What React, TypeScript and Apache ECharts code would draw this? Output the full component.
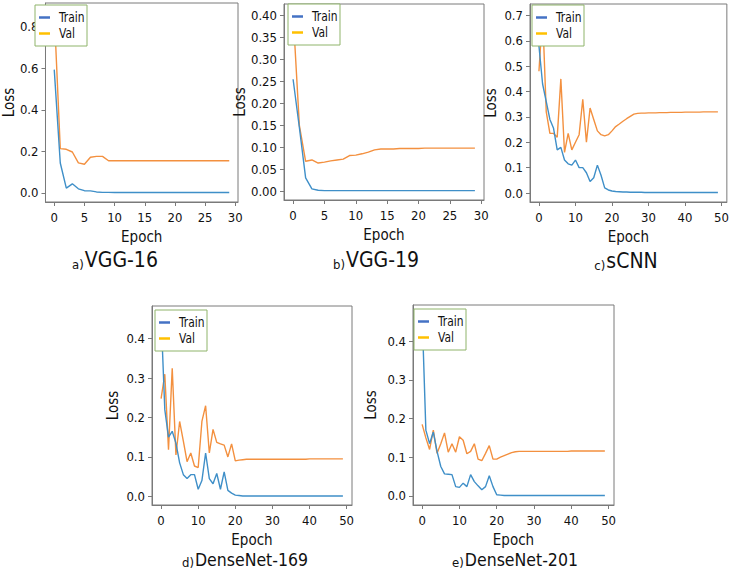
import React, { useEffect, useRef } from 'react';
import * as echarts from 'echarts';

const FONT = "'Liberation Sans Narrow','DejaVu Sans Condensed','Roboto Condensed','Liberation Sans',Arial,sans-serif";

// ---- data ----
const vgg16Train = [0.593, 0.144, 0.023, 0.044, 0.020, 0.011, 0.010, 0.005, 0.003, 0.003,
  0.002, 0.002, 0.002, 0.002, 0.002, 0.002, 0.002, 0.002, 0.002, 0.002,
  0.002, 0.002, 0.002, 0.002, 0.002, 0.002, 0.002, 0.002, 0.002, 0.002];
const vgg16Val = [0.870, 0.213, 0.210, 0.197, 0.145, 0.138, 0.172, 0.176, 0.176, 0.155,
  0.155, 0.155, 0.155, 0.155, 0.155, 0.155, 0.155, 0.155, 0.155, 0.155,
  0.155, 0.155, 0.155, 0.155, 0.155, 0.155, 0.155, 0.155, 0.155, 0.155];

const vgg19Train = [0.255, 0.145, 0.030, 0.005, 0.002, 0.001, 0.001, 0.001, 0.001, 0.001,
  0.001, 0.001, 0.001, 0.001, 0.001, 0.001, 0.001, 0.001, 0.001, 0.001,
  0.001, 0.001, 0.001, 0.001, 0.001, 0.001, 0.001, 0.001, 0.001, 0.001];
const vgg19Val = [0.406, 0.150, 0.068, 0.071, 0.064, 0.066, 0.069, 0.071, 0.073, 0.081,
  0.082, 0.085, 0.089, 0.094, 0.096, 0.096, 0.096, 0.097, 0.097, 0.097,
  0.097, 0.098, 0.098, 0.098, 0.098, 0.098, 0.098, 0.098, 0.098, 0.098];

const scnnTrain = [0.58, 0.43, 0.36, 0.29, 0.255, 0.17, 0.18, 0.13, 0.115, 0.11,
  0.13, 0.10, 0.10, 0.08, 0.045, 0.06, 0.11, 0.07, 0.02, 0.012,
  0.008, 0.006, 0.005, 0.004, 0.004, 0.003, 0.003, 0.003, 0.003, 0.002,
  0.002, 0.002, 0.002, 0.002, 0.002, 0.002, 0.002, 0.002, 0.002, 0.002,
  0.002, 0.002, 0.002, 0.002, 0.002, 0.002, 0.002, 0.002, 0.002, 0.002];
const scnnVal = [0.48, 0.71, 0.32, 0.235, 0.235, 0.22, 0.45, 0.16, 0.235, 0.17,
  0.20, 0.23, 0.37, 0.20, 0.335, 0.29, 0.245, 0.23, 0.225, 0.23,
  0.245, 0.262, 0.272, 0.283, 0.293, 0.302, 0.311, 0.314, 0.315, 0.315,
  0.316, 0.316, 0.316, 0.317, 0.317, 0.317, 0.318, 0.318, 0.318, 0.318,
  0.319, 0.319, 0.319, 0.319, 0.319, 0.320, 0.320, 0.320, 0.320, 0.320];

const dn169Train = [0.46, 0.22, 0.15, 0.165, 0.135, 0.085, 0.055, 0.045, 0.055, 0.055,
  0.018, 0.04, 0.11, 0.045, 0.032, 0.058, 0.018, 0.062, 0.015, 0.008,
  0.003, 0.002, 0.001, 0.001, 0.001, 0.001, 0.001, 0.001, 0.001, 0.001,
  0.001, 0.001, 0.001, 0.001, 0.001, 0.001, 0.001, 0.001, 0.001, 0.001,
  0.001, 0.001, 0.001, 0.001, 0.001, 0.001, 0.001, 0.001, 0.001, 0.001];
const dn169Val = [0.248, 0.31, 0.118, 0.325, 0.105, 0.19, 0.14, 0.088, 0.11, 0.077,
  0.073, 0.19, 0.23, 0.11, 0.17, 0.137, 0.133, 0.13, 0.10, 0.133,
  0.09, 0.092, 0.093, 0.094, 0.094, 0.094, 0.094, 0.094, 0.094, 0.094,
  0.094, 0.094, 0.094, 0.094, 0.094, 0.094, 0.094, 0.094, 0.094, 0.094,
  0.095, 0.095, 0.095, 0.095, 0.095, 0.095, 0.095, 0.095, 0.095, 0.095];

const dn201Train = [0.47, 0.17, 0.135, 0.165, 0.115, 0.076, 0.057, 0.056, 0.055, 0.024,
  0.022, 0.033, 0.024, 0.055, 0.037, 0.026, 0.016, 0.024, 0.052, 0.024,
  0.003, 0.002, 0.001, 0.001, 0.001, 0.001, 0.001, 0.001, 0.001, 0.001,
  0.001, 0.001, 0.001, 0.001, 0.001, 0.001, 0.001, 0.001, 0.001, 0.001,
  0.001, 0.001, 0.001, 0.001, 0.001, 0.001, 0.001, 0.001, 0.001, 0.001];
const dn201Val = [0.185, 0.15, 0.12, 0.17, 0.11, 0.135, 0.163, 0.113, 0.135, 0.113,
  0.153, 0.144, 0.109, 0.115, 0.135, 0.095, 0.091, 0.11, 0.13, 0.095,
  0.095, 0.10, 0.104, 0.108, 0.112, 0.114, 0.115, 0.115, 0.115, 0.115,
  0.115, 0.115, 0.115, 0.115, 0.115, 0.115, 0.115, 0.115, 0.115, 0.115,
  0.116, 0.116, 0.116, 0.116, 0.116, 0.116, 0.116, 0.116, 0.116, 0.116];

// ---- ticks ----
const xTicks30 = [0, 5, 10, 15, 20, 25, 30];
const xTicks50 = [0, 10, 20, 30, 40, 50];
const yTicksA = [0, 0.2, 0.4, 0.6, 0.8];
const yTicksB = [0, 0.05, 0.1, 0.15, 0.2, 0.25, 0.3, 0.35, 0.4];
const yTicksC = [0, 0.1, 0.2, 0.3, 0.4, 0.5, 0.6, 0.7];
const yTicksD = [0, 0.1, 0.2, 0.3, 0.4];

const seriesNames = ['Train', 'Val'];
const panelLabels = ['a)', 'b)', 'c)', 'd)', 'e)'];
const panelNames = ['VGG-16', 'VGG-19', 'sCNN', 'DenseNet-169', 'DenseNet-201'];

const TRAIN_COLOR = '#3f8fc8';
const VAL_COLOR = '#f3903f';
const LEG_TRAIN = '#4472c4';
const LEG_VAL = '#ffc000';
const FRAME = '#7a7a7a';

const panels = [
  { grid: { left: 34, top: 3, width: 204, height: 199 }, x: [-1.45, 30.45], xt: xTicks30, y: [-0.0434, 0.9134], yt: yTicksA, dec: 1, train: vgg16Train, val: vgg16Val, lossGap: 22, titleX: 115, titleY: 260, titleSize: 21, leg: [35, 5] },
  { grid: { left: 284, top: 4, width: 200, height: 196 }, x: [-1.45, 30.45], xt: xTicks30, y: [-0.0203, 0.4265], yt: yTicksB, dec: 2, train: vgg19Train, val: vgg19Val, lossGap: 32, titleX: 376, titleY: 260, titleSize: 21, leg: [288, 4] },
  { grid: { left: 530, top: 4, width: 197, height: 198 }, x: [-2.45, 51.45], xt: xTicks50, y: [-0.0355, 0.7455], yt: yTicksC, dec: 1, train: scnnTrain, val: scnnVal, lossGap: 32, titleX: 626, titleY: 261, titleSize: 21, leg: [532, 5] },
  { grid: { left: 152, top: 306, width: 200, height: 199 }, x: [-2.45, 51.45], xt: xTicks50, y: [-0.022, 0.483], yt: yTicksD, dec: 1, train: dn169Train, val: dn169Val, lossGap: 32, titleX: 245, titleY: 560, titleSize: 17.5, leg: [155, 310] },
  { grid: { left: 413, top: 305, width: 201, height: 200 }, x: [-2.45, 51.45], xt: xTicks50, y: [-0.0235, 0.4935], yt: yTicksD, dec: 1, train: dn201Train, val: dn201Val, lossGap: 35, titleX: 515, titleY: 560, titleSize: 17.5, leg: [414, 309] },
];

function buildOption() {
  const grid: any[] = [];
  const xAxis: any[] = [];
  const yAxis: any[] = [];
  const series: any[] = [];
  const graphic: any[] = [];

  panels.forEach((p, i) => {
    grid.push({ ...p.grid, show: true, borderColor: FRAME, borderWidth: 1, backgroundColor: 'transparent' });
    xAxis.push({
      type: 'value', gridIndex: i, min: p.x[0], max: p.x[1],
      name: 'Epoch', nameLocation: 'middle', nameGap: 27,
      nameTextStyle: { fontFamily: FONT, fontSize: 15, color: '#111' },
      axisLine: { show: true, onZero: false, lineStyle: { color: FRAME } },
      axisTick: { show: true, length: 4, lineStyle: { color: FRAME }, customValues: p.xt },
      axisLabel: { fontFamily: FONT, fontSize: 13, color: '#111', margin: 9, customValues: p.xt, formatter: (v: number) => String(v) },
      splitLine: { show: false },
    });
    yAxis.push({
      type: 'value', gridIndex: i, min: p.y[0], max: p.y[1],
      name: 'Loss', nameLocation: 'middle', nameGap: p.lossGap, nameRotate: 90,
      nameTextStyle: { fontFamily: FONT, fontSize: 15, color: '#111' },
      axisLine: { show: true, onZero: false, lineStyle: { color: FRAME } },
      axisTick: { show: true, length: 4, lineStyle: { color: FRAME }, customValues: p.yt },
      axisLabel: { fontFamily: FONT, fontSize: 13, color: '#111', margin: 7, customValues: p.yt, formatter: (v: number) => v.toFixed(p.dec) },
      splitLine: { show: false },
    });
    const mk = (arr: number[]) => arr.map((v, k) => [k, v]);
    series.push({
      type: 'line', name: seriesNames[0], xAxisIndex: i, yAxisIndex: i, data: mk(p.train),
      showSymbol: false, symbol: 'none', lineStyle: { color: TRAIN_COLOR, width: 1.4 }, itemStyle: { color: TRAIN_COLOR }, z: 3,
    });
    series.push({
      type: 'line', name: seriesNames[1], xAxisIndex: i, yAxisIndex: i, data: mk(p.val),
      showSymbol: false, symbol: 'none', lineStyle: { color: VAL_COLOR, width: 1.4 }, itemStyle: { color: VAL_COLOR }, z: 2,
    });

    const [lx, ly] = p.leg;
    graphic.push({
      type: 'group', x: lx, y: ly, z: 100,
      children: [
        { type: 'rect', shape: { x: 0, y: 0, width: 52, height: 41 }, style: { fill: '#ffffff', stroke: '#8fb46a', lineWidth: 1 }, z: 100 },
        { type: 'line', shape: { x1: 4, y1: 12.5, x2: 15, y2: 12.5 }, style: { stroke: LEG_TRAIN, lineWidth: 2.5 }, z: 101 },
        { type: 'text', x: 24, y: 12.5, scaleX: 0.85, style: { text: seriesNames[0], fontFamily: FONT, fontSize: 14, fill: '#111', verticalAlign: 'middle' }, z: 101 },
        { type: 'line', shape: { x1: 4, y1: 28.5, x2: 15, y2: 28.5 }, style: { stroke: LEG_VAL, lineWidth: 2.5 }, z: 101 },
        { type: 'text', x: 24, y: 28.5, scaleX: 0.85, style: { text: seriesNames[1], fontFamily: FONT, fontSize: 14, fill: '#111', verticalAlign: 'middle' }, z: 101 },
      ],
    });
    graphic.push({
      type: 'text', x: p.titleX, y: p.titleY, z: 100,
      style: {
        text: `{s|${panelLabels[i]}}{b|${panelNames[i]}}`,
        align: 'center', verticalAlign: 'middle',
        rich: {
          s: { fontFamily: FONT, fontSize: 13, fill: '#111', verticalAlign: 'bottom', padding: [0, 1, 0, 0] },
          b: { fontFamily: FONT, fontSize: p.titleSize, fill: '#111', verticalAlign: 'bottom' },
        },
      },
    });
  });

  return { animation: false, backgroundColor: '#ffffff', grid, xAxis, yAxis, series, graphic };
}

export default function App() {
  const ref = useRef<HTMLDivElement>(null);
  useEffect(() => {
    if (!ref.current) return;
    const chart = echarts.init(ref.current, undefined, { renderer: 'svg' });
    chart.setOption(buildOption() as any);
    return () => chart.dispose();
  }, []);
  return <div ref={ref} style={{ position: 'absolute', left: 0, top: 0, width: 732, height: 574, background: '#fff' }} />;
}
